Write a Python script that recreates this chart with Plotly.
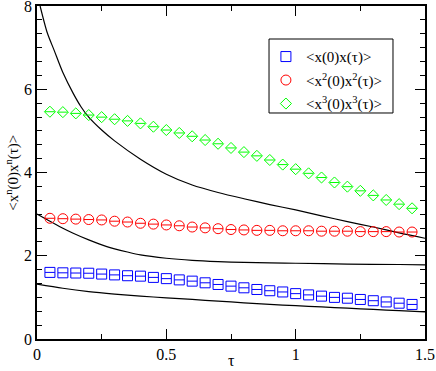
import plotly.graph_objects as go

tau = [0.05, 0.10, 0.15, 0.20, 0.25, 0.30, 0.35, 0.40, 0.45, 0.50,
       0.55, 0.60, 0.65, 0.70, 0.75, 0.80, 0.85, 0.90, 0.95, 1.00,
       1.05, 1.10, 1.15, 1.20, 1.25, 1.30, 1.35, 1.40, 1.45]

corr_x1 = [1.60, 1.59, 1.585, 1.58, 1.56, 1.54, 1.52, 1.51, 1.48, 1.45,
           1.42, 1.39, 1.35, 1.31, 1.27, 1.23, 1.19, 1.16, 1.13, 1.09,
           1.06, 1.03, 1.00, 0.98, 0.95, 0.92, 0.89, 0.86, 0.83]

corr_x2 = [2.90, 2.89, 2.88, 2.87, 2.86, 2.83, 2.81, 2.78, 2.76, 2.74,
           2.72, 2.69, 2.67, 2.65, 2.63, 2.62, 2.61, 2.61, 2.60, 2.60,
           2.60, 2.59, 2.59, 2.59, 2.58, 2.58, 2.58, 2.57, 2.57]

corr_x3 = [5.46, 5.45, 5.42, 5.38, 5.33, 5.28, 5.24, 5.18, 5.10, 5.02,
           4.95, 4.87, 4.78, 4.69, 4.59, 4.49, 4.40, 4.30, 4.19, 4.08,
           3.98, 3.88, 3.76, 3.66, 3.56, 3.45, 3.34, 3.24, 3.14]

# theory curves
curveA_t = [0.012, 0.04, 0.066, 0.10, 0.14, 0.17, 0.20, 0.25, 0.30, 0.40,
            0.50, 0.60, 0.70, 0.80, 0.90, 1.00, 1.10, 1.20, 1.30, 1.40, 1.50]
curveA_v = [8.00, 7.35, 6.94, 6.40, 5.90, 5.58, 5.33, 5.02, 4.76, 4.32,
            3.96, 3.70, 3.52, 3.37, 3.23, 3.10, 2.96, 2.82, 2.69, 2.55, 2.42]

curveB_t = [0.0, 0.05, 0.10, 0.14, 0.20, 0.27, 0.35, 0.40, 0.50, 0.60,
            0.70, 0.80, 0.90, 1.00, 1.20, 1.40, 1.50]
curveB_v = [3.00, 2.83, 2.66, 2.54, 2.38, 2.22, 2.09, 2.02, 1.94, 1.89,
            1.86, 1.84, 1.83, 1.82, 1.80, 1.79, 1.78]

curveC_t = [0.0, 0.10, 0.20, 0.30, 0.40, 0.50, 0.60, 0.70, 0.80, 0.90,
            1.00, 1.10, 1.20, 1.30, 1.40, 1.50]
curveC_v = [1.32, 1.22, 1.14, 1.08, 1.03, 0.99, 0.95, 0.91, 0.87, 0.83,
            0.80, 0.77, 0.74, 0.71, 0.68, 0.65]

x_ticks = [0, 0.5, 1, 1.5]
x_ticklabels = ["0", "0.5", "1", "1.5"]
y_ticks = [0, 2, 4, 6, 8]

FONT = "Liberation Serif, Times New Roman, serif"

fig = go.Figure()

for t, v in [(curveA_t, curveA_v), (curveB_t, curveB_v), (curveC_t, curveC_v)]:
    fig.add_trace(go.Scatter(x=t, y=v, mode="lines", showlegend=False,
                             line=dict(color="black", width=1.2, shape="spline", smoothing=0.8),
                             hoverinfo="skip"))

series = [
    (corr_x1, "#0000ff", "square-open", 10, "&lt;x(0)x(τ)&gt;", "g1"),
    (corr_x2, "#ff0000", "circle-open", 10, "&lt;x<sup>2</sup>(0)x<sup>2</sup>(τ)&gt;", "g2"),
    (corr_x3, "#00ff00", "diamond-open", 8.5, "&lt;x<sup>3</sup>(0)x<sup>3</sup>(τ)&gt;", "g3"),
]

for vals, col, sym, sz, name, grp in series:
    fig.add_trace(go.Scatter(x=tau, y=vals, mode="markers", name=name, legendgroup=grp,
                             marker=dict(symbol=sym, size=sz, color=col,
                                         line=dict(color=col, width=1))))
    fig.add_trace(go.Scatter(x=tau, y=vals, mode="markers", showlegend=False, legendgroup=grp,
                             marker=dict(symbol="line-ew", size=7,
                                         line=dict(color=col, width=1))))

axis_common = dict(showline=True, linecolor="black", linewidth=1.5, mirror="ticks",
                   ticks="inside", ticklen=10, tickwidth=1, tickcolor="black",
                   showgrid=False, zeroline=False, automargin=False,
                   ticklabeloverflow="allow",
                   tickfont=dict(family=FONT, size=16, color="black"))

fig.update_xaxes(range=[0, 1.5], tickvals=x_ticks, ticktext=x_ticklabels,
                 minor=dict(ticks="inside", ticklen=5, tickwidth=1, tickcolor="black", dtick=0.25, tick0=0),
                 **axis_common)
fig.update_yaxes(range=[0, 8], tickvals=y_ticks,
                 minor=dict(ticks="inside", ticklen=5, tickwidth=1, tickcolor="black", dtick=1/3, tick0=0),
                 **axis_common)

fig.update_layout(
    width=436, height=371,
    margin=dict(l=37, r=11, t=6, b=32),
    paper_bgcolor="white", plot_bgcolor="white",
    font=dict(family=FONT, color="black"),
    legend=dict(x=0.59, y=0.897, xanchor="left", yanchor="top",
                borderwidth=0, bgcolor="rgba(0,0,0,0)",
                font=dict(family=FONT, size=15, color="black"),
                tracegroupgap=1, itemsizing="trace"),
    shapes=[
        dict(type="rect", xref="paper", yref="paper",
             x0=0.598, x1=0.9175, y0=0.6787, y1=0.9009,
             line=dict(color="black", width=1), fillcolor="rgba(0,0,0,0)", layer="above"),
    ],
    annotations=[
        dict(text="τ", xref="paper", yref="paper", x=0.5, y=-0.066,
             xanchor="center", yanchor="middle", showarrow=False,
             font=dict(family=FONT, size=16, color="black")),
        dict(text="&lt;x<sup>n</sup>(0)x<sup>n</sup>(τ)&gt;", xref="paper", yref="paper",
             x=-0.064, y=0.5, xanchor="center", yanchor="middle", textangle=-90,
             showarrow=False, font=dict(family=FONT, size=15, color="black")),
    ],
)

fig.write_html("out.html", post_script="document.body.style.margin='0';",
               config={"displayModeBar": False})
